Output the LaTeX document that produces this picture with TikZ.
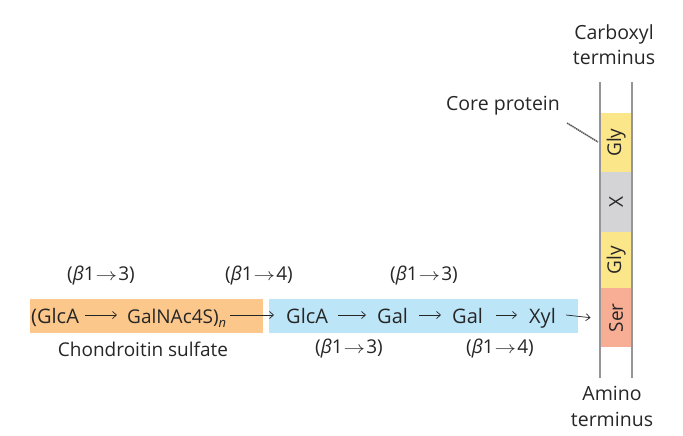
\documentclass[tikz,border=0pt]{standalone}
\usepackage{fontspec}
\setmainfont{Open Sans}
\usetikzlibrary{arrows.meta,calc}
\definecolor{orangebox}{HTML}{FBC78A}
\definecolor{bluebox}{HTML}{BDE5F8}
\definecolor{glyc}{HTML}{FCE68A}
\definecolor{xc}{HTML}{D4D4D6}
\definecolor{serc}{HTML}{F7AE94}
\definecolor{railc}{HTML}{959597}
\tikzset{
  lbl/.style={font=\fontsize{19}{22}\selectfont, text=black!85, inner sep=0pt},
  sugar/.style={font=\fontsize{20}{22}\selectfont, text=black!85, inner sep=0pt, anchor=base west},
  bond/.style={-{Straight Barb[length=4pt,width=7pt]}, line width=0.7pt, black!85},
  seg/.style={minimum width=31pt, inner sep=0pt, anchor=north west},
  segtxt/.style={inner sep=0pt, rotate=90, font=\fontsize{19}{21}\selectfont, text=black!85},
  rail/.style={railc, line width=1.8pt},
}
\newcommand{\lnk}[1]{(\textit{β}1\hspace{1pt}\scalebox{1.25}[1]{$\rightarrow$}\hspace{1pt}#1)}
\begin{document}
\begin{tikzpicture}[x=1pt,y=-1pt]
\useasboundingbox (0,0) rectangle (683,436);
% boxes
\node[fill=orangebox, minimum width=233pt, minimum height=34pt, inner sep=0pt, anchor=north west] (csbox) at (30,299) {};
\node[fill=bluebox, minimum width=309pt, minimum height=34pt, inner sep=0pt, anchor=north west] (linkbox) at (269,299) {};
% sugars
\node[sugar] (glca1) at (31,323) {(GlcA};
\node[sugar, font=\fontsize{19}{22}\selectfont] (galnac) at (127,323) {GalNAc4S)\raisebox{-4pt}{\fontsize{13}{16}\selectfont\itshape n}};
\node[sugar] (glca2) at (286,323) {GlcA};
\node[sugar] (gal1) at (377,323) {Gal};
\node[sugar] (gal2) at (452,323) {Gal};
\node[sugar] (xyl) at (529,323) {Xyl};
% linkage labels
\node[lbl] (l1) at (101,276) {\lnk{3}};
\node[lbl] (l2) at (259,276) {\lnk{4}};
\node[lbl] (l3) at (424,276) {\lnk{3}};
\node[lbl] (l4) at (349,349) {\lnk{3}};
\node[lbl] (l5) at (500,349) {\lnk{4}};
\node[lbl] (cs) at (143,349) {Chondroitin sulfate};
% column
\node[seg, fill=glyc, minimum height=59pt] (gly1) at (600.5,113) {};
\node[seg, fill=xc, minimum height=60pt] (xx) at (600.5,172) {};
\node[seg, fill=glyc, minimum height=56pt] (gly2) at (600.5,232) {};
\node[seg, fill=serc, minimum height=59pt] (ser) at (600.5,288) {};
\node[segtxt] (t1) at (gly1.center) {Gly};
\node[segtxt] (t2) at (xx.center) {X};
\node[segtxt] (t3) at (gly2.center) {Gly};
\node[segtxt] (t4) at (ser.center) {Ser};
\draw[rail] (600,82) -- (600,378);
\draw[rail] (632,82) -- (632,378);
\node[lbl, align=center, font=\fontsize{19.5}{25}\selectfont] (carb) at (614,45) {Carboxyl\\terminus};
\node[lbl, align=center, font=\fontsize{19.5}{26}\selectfont] (amino) at (612,406) {Amino\\terminus};
\node[lbl, font=\fontsize{19.5}{22}\selectfont] (core) at (503,106) {Core protein};
\coordinate (corestart) at (567,123);
\coordinate (coreend) at (598,142);
\draw[black!65, line width=1.5pt, dash pattern=on 1.5pt off 0.6pt] (corestart) -- (coreend);
% bonds
\draw[bond] ($(glca1.base east)+(6,-8)$) -- ($(galnac.base west)+(-10,-8)$);
\draw[bond] ($(galnac.base east)+(4,-8)$) -- ($(glca2.base west)+(-12,-8)$);
\draw[bond] ($(glca2.base east)+(10,-8)$) -- ($(gal1.base west)+(-11,-8)$);
\draw[bond] ($(gal1.base east)+(11,-8)$) -- ($(gal2.base west)+(-11,-8)$);
\draw[bond] ($(gal2.base east)+(13,-8)$) -- ($(xyl.base west)+(-12,-8)$);
\draw[bond] ($(xyl.base east)+(10,-8)$) -- ($(ser.west)+(-10,0)$ |- 0,315);
\end{tikzpicture}
\end{document}
